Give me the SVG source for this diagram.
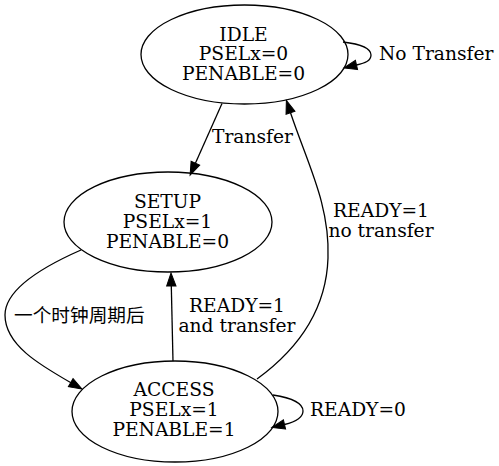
<svg xmlns="http://www.w3.org/2000/svg" width="499" height="466" viewBox="0 0 499 466">
<defs>
<style>
.node ellipse{fill:none;stroke:#000;stroke-width:1.3}
text{font-family:"DejaVu Serif","Liberation Serif",serif;font-size:18.67px;fill:#000}
.c{text-anchor:middle}
.cjk{font-family:"Noto Sans CJK SC","DejaVu Sans",sans-serif}
.edges path{fill:none;stroke:#000;stroke-width:1.3}
</style>
<marker id="ah" markerUnits="userSpaceOnUse" markerWidth="14" markerHeight="12" refX="0" refY="5" orient="auto" viewBox="0 0 14 10" overflow="visible">
<path d="M0,0.3 L13,5 L0,9.7 z" fill="#000" stroke="#000" stroke-width="1"/>
</marker>
</defs>
<rect width="499" height="466" fill="#fff"/>
<g class="edges">
<path d="M222,103.5 L195.4,163.2" marker-end="url(#ah)"/>
<path d="M257,379 C290,355 326,318 328,258 C330,205 308,165 290.5,112.8" marker-end="url(#ah)"/>
<path d="M81,250 C40,268 5,290 5,315 C5,345 40,365 70.7,382.6" marker-end="url(#ah)"/>
<path d="M173,361 L171.3,286" marker-end="url(#ah)"/>
<path d="M343,42 C360,44 371,48 371,55 C371,61 365,63 356.5,65" marker-end="url(#ah)"/>
<path d="M273,395 C292,398 303,403 303,411 C303,418 295,422 284.5,424.5" marker-end="url(#ah)"/>
<text x="212" y="143.3">Transfer</text>
<text class="c" x="381" y="217.3">READY=1</text>
<text class="c" x="381" y="237.3">no transfer</text>
<text class="cjk" x="14" y="322">一个时钟周期后</text>
<text class="c" x="237" y="312.3">READY=1</text>
<text class="c" x="237" y="332">and transfer</text>
<text x="379" y="60">No Transfer</text>
<text x="310" y="416">READY=0</text>
</g>
<g id="IDLE" class="node">
<ellipse cx="244.5" cy="54.5" rx="103.5" ry="49.5"/>
<text class="c" x="243.5" y="40.5">IDLE</text>
<text class="c" x="243.5" y="60">PSELx=0</text>
<text class="c" x="243.5" y="79.5">PENABLE=0</text>
</g>
<g id="SETUP" class="node">
<ellipse cx="168" cy="222" rx="104" ry="50"/>
<text class="c" x="167.5" y="208.3">SETUP</text>
<text class="c" x="167.5" y="228.3">PSELx=1</text>
<text class="c" x="167.5" y="247.7">PENABLE=0</text>
</g>
<g id="ACCESS" class="node">
<ellipse cx="175" cy="411.5" rx="103" ry="50.5"/>
<text class="c" x="174" y="396">ACCESS</text>
<text class="c" x="174" y="416">PSELx=1</text>
<text class="c" x="174" y="435.7">PENABLE=1</text>
</g>
</svg>
